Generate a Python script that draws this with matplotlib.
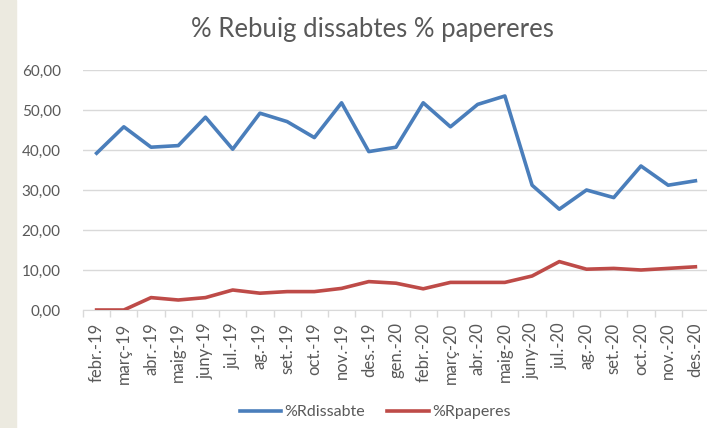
import matplotlib
matplotlib.use("Agg")
import matplotlib.pyplot as plt
import numpy as np

# ─── Data ────────────────────────────────────────────────────────────────
months = ["febr.-19", "març-19", "abr.-19", "maig-19", "juny-19", "jul.-19",
          "ag.-19", "set.-19", "oct.-19", "nov.-19", "des.-19", "gen.-20",
          "febr.-20", "març-20", "abr.-20", "maig-20", "juny-20", "jul.-20",
          "ag.-20", "set.-20", "oct.-20", "nov.-20", "des.-20"]
rdissabte = [39.2, 45.8, 40.7, 41.1, 48.2, 40.2, 49.2, 47.1, 43.1, 51.8,
             39.6, 40.7, 51.8, 45.8, 51.4, 53.5, 31.2, 25.2, 30.0, 28.1,
             36.0, 31.2, 32.3]
rpaperes = [0.0, 0.0, 3.1, 2.5, 3.1, 5.0, 4.2, 4.6, 4.6, 5.4,
            7.1, 6.7, 5.3, 6.9, 6.9, 6.9, 8.5, 12.1, 10.2, 10.4,
            10.0, 10.4, 10.8]
yticks = [0, 10, 20, 30, 40, 50, 60]

plt.rcParams["font.family"] = ["Lato", "DejaVu Sans"]
TXT = "#595959"

fig = plt.figure(figsize=(7.07, 4.28), dpi=100)
fig.patches.append(plt.Rectangle((0, 0), 16 / 707, 1, transform=fig.transFigure,
                                 color="#ECEAE0", zorder=0))

ax = fig.add_axes([83 / 707, 118 / 428, 626 / 707, 240 / 428])
x = np.arange(len(months))
ax.plot(x, rdissabte, color="#4A7EBB", lw=2.6, solid_joinstyle="round",
        label="%Rdissabte", zorder=3)
ax.plot(x, rpaperes, color="#BE4B48", lw=2.6, solid_joinstyle="round",
        label="%Rpaperes", zorder=3)

ax.set_xlim(-0.5, len(months) - 0.5)
ax.set_ylim(0, 60)
ax.set_yticks(yticks)
ax.set_yticklabels([f"{v:.2f}".replace(".", ",") for v in yticks],
                   fontsize=11, color=TXT)
ax.yaxis.grid(True, color="#D9D9D9", lw=1)
ax.tick_params(axis="y", length=0, pad=16)

ax.set_xticks(x)
ax.set_xticklabels(months, rotation=90, fontsize=12, color=TXT)
ax.set_xticks(np.arange(-0.5, len(months)), minor=True)
ax.tick_params(axis="x", which="major", length=0, pad=9)
ax.tick_params(axis="x", which="minor", length=5, color="#D9D9D9", width=1)

for s in ["top", "right", "left"]:
    ax.spines[s].set_visible(False)
ax.spines["bottom"].set_color("#D9D9D9")
ax.set_axisbelow(True)

fig.text(372 / 707, 1 - 30 / 428, "% Rebuig dissabtes % papereres",
         ha="center", va="center", fontsize=18.5, color=TXT)

fig.legend(loc="center", bbox_to_anchor=(375 / 707, 1 - 412 / 428),
           ncol=2, frameon=False, fontsize=11.5, labelcolor=TXT,
           handlelength=2.6, columnspacing=1.4, handletextpad=0.2)

fig.savefig("out.png", dpi=100)
